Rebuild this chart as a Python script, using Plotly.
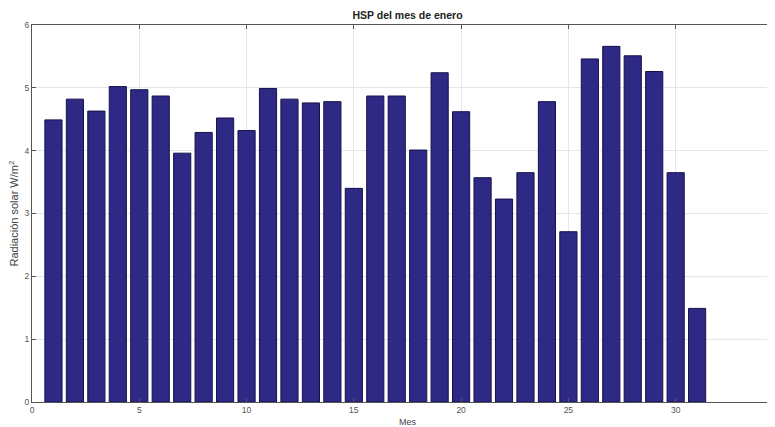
import plotly.graph_objects as go

days = list(range(1, 32))
hsp = [4.49, 4.82, 4.63, 5.02, 4.97, 4.87, 3.96, 4.29, 4.52, 4.32,
       4.99, 4.82, 4.76, 4.78, 3.40, 4.87, 4.87, 4.01, 5.24, 4.62,
       3.57, 3.23, 3.65, 4.78, 2.71, 5.46, 5.66, 5.51, 5.26, 3.65, 1.49]
x_ticks = [0, 5, 10, 15, 20, 25, 30]
y_ticks = [0, 1, 2, 3, 4, 5, 6]

FONT = "Liberation Sans, Arial, sans-serif"

fig = go.Figure(go.Bar(
    x=days, y=hsp, width=0.8,
    marker=dict(color="#2e2985", line=dict(color="#15124a", width=1)),
))

axis_common = dict(
    showgrid=True, gridcolor="#e6e6e6", gridwidth=1,
    showline=True, linecolor="#555555", linewidth=1,
    ticks="inside", ticklen=4, tickcolor="#555555",
    tickfont=dict(size=8.5, color="#555555", family=FONT),
    zeroline=False, automargin=False,
)

fig.update_layout(
    width=767, height=419,
    margin=dict(l=24, r=0, t=17, b=25),
    paper_bgcolor="white", plot_bgcolor="white",
    title=dict(text="<b>HSP del mes de enero</b>", xref="container",
               x=0.5209, xanchor="center", yref="container",
               y=0.9833, yanchor="middle",
               font=dict(size=10.5, color="#222222", family=FONT)),
    xaxis=dict(range=[0, 34.63], tickvals=x_ticks, mirror="allticks", **axis_common),
    yaxis=dict(range=[0, 6], tickvals=y_ticks, mirror=False, **axis_common),
    showlegend=False,
    annotations=[
        dict(text="Radiación solar W/m<sup>2</sup>", xref="paper", yref="paper",
             x=0, y=0.5, xanchor="center", yanchor="middle", xshift=-19,
             textangle=-90, showarrow=False,
             font=dict(size=11, color="#444444", family=FONT)),
        dict(text="Mes", xref="paper", yref="paper",
             x=0.5054, y=0, xanchor="center", yanchor="middle", yshift=-20,
             showarrow=False,
             font=dict(size=9, color="#444444", family=FONT)),
    ],
)

fig.write_html("out.html")
